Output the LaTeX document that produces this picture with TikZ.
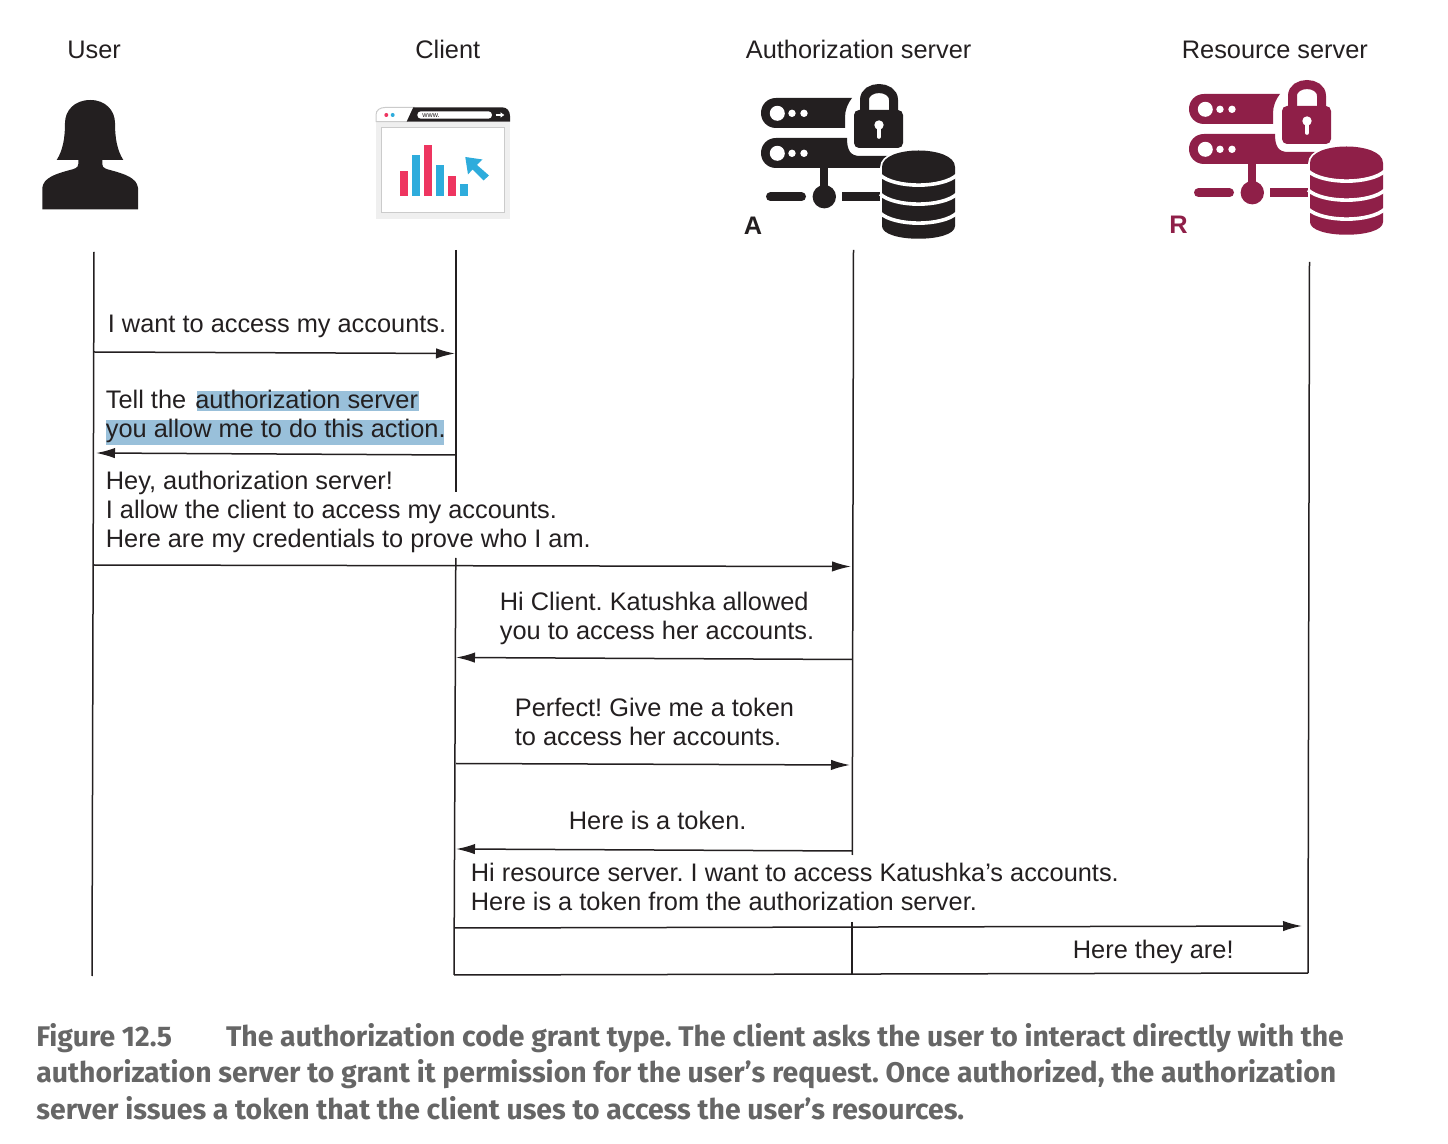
\documentclass[tikz,border=0pt]{standalone}
\usepackage{fontspec}
\setmainfont{Liberation Sans}
\newfontfamily\captionfont{Fira Sans}
\usetikzlibrary{positioning,arrows}
\usetikzlibrary{arrows.meta}
\definecolor{inkblack}{HTML}{231F20}
\definecolor{maroon}{HTML}{8F1F48}
\definecolor{highlight}{HTML}{99C0DA}
\definecolor{barred}{HTML}{EE3560}
\definecolor{barblue}{HTML}{2EACDC}
\definecolor{framegray}{HTML}{EFEFEF}
\definecolor{captiongray}{HTML}{666666}
\frenchspacing
\tikzset{
	lifeline/.style={draw=inkblack, line width=0.75pt},
	message/.style={lifeline, -{Latex[length=9.5pt,width=5.2pt]}},
	pics/servericon/.style={code={
		\fill [#1] (776,98) -- (852,98) .. controls (848,103) and (845,110) .. (845,117) -- (845,128) -- (776,128) .. controls (767,128) and (761,121) .. (761,113) .. controls (761,105) and (767,98) .. (776,98) -- cycle;
		\fill [#1] (776,138) -- (847,138) .. controls (847,150) and (850,156) .. (860,156) -- (892,156) -- (892,168) -- (776,168) .. controls (767,168) and (761,161) .. (761,153) .. controls (761,145) and (767,138) .. (776,138) -- cycle;
		\foreach \rowy in {113.3,153.3} {
			\fill [white] (777.3,\rowy) circle [radius=7.5];
			\fill [white] (792,\rowy) circle [radius=3.7];
			\fill [white] (804,\rowy) circle [radius=3.7];
		}
		\fill [#1] (820,168) rectangle (828,190);
		\fill [#1] (824.3,196.7) circle [radius=11.7];
		\draw [#1, line width=4.5pt, line cap=round] (770.5,196.7) -- (801.5,196.7);
		\fill [#1] (842,192) rectangle (890,201);
		\draw [#1, line width=4.5pt] (864.5,112) -- (864.5,100) .. controls (864.5,84.7) and (893.5,84.7) .. (893.5,100) -- (893.5,112);
		\fill [#1, rounded corners=2.5pt] (854,110) rectangle (903,148);
		\fill [white] (879,125) circle [radius=4.7];
		\draw [white, line width=1.8pt, line cap=round] (879,126) -- (879,137);
		\path [fill=#1, draw=white, line width=1.8pt] (882,167) .. controls (882,145) and (955,145) .. (955,167) -- (955,226) .. controls (955,243) and (882,243) .. (882,226) -- cycle;
		\fill [#1] (882,167) .. controls (882,145) and (955,145) .. (955,167) -- (955,226) .. controls (955,243) and (882,243) .. (882,226) -- cycle;
		\foreach \curvey in {175,194,213} {
			\draw [white, line width=1.8pt] (880,\curvey) .. controls (895,\curvey+13.5) and (942,\curvey+13.5) .. (957,\curvey);
		}
	}},
}
\begin{document}
\begin{tikzpicture}[x=0.5pt,y=-0.5pt]
	\useasboundingbox (0,0) rectangle (1448,1144);
	\tikzstyle{every node}=[font=\fontsize{12.68}{14.55}\selectfont, text=inkblack, inner sep=0pt, align=left, anchor=base west]

	\fill [highlight] (196.7,391) rectangle (419,410.7);
	\fill [highlight] (106,420) rectangle (444,445);

	\draw (67,59) node (userlabel) {User};
	\draw (415,59) node (clientlabel) {Client};
	\draw (745.5,59) node (authlabel) {Authorization server};
	\draw (1181.5,59) node (reslabel) {Resource server};

	\fill [inkblack] (90.3,100) .. controls (74,100) and (65,111) .. (65,123) .. controls (65,138) and (63,150) .. (56.7,160) -- (78.3,160) -- (78.3,164) .. controls (78.3,168) and (74,169) .. (70,170) .. controls (55,174) and (43.3,178) .. (42.3,188) -- (42.3,209.3) -- (138,209.3) -- (138,188) .. controls (137,178) and (125,174) .. (110,170) .. controls (106,169) and (102.3,168) .. (102.3,164) -- (102.3,160) -- (123.3,160) .. controls (117,150) and (115,138) .. (115,123) .. controls (115,111) and (106,100) .. (90.3,100) -- cycle;

	\fill [framegray] (375.7,121.7) rectangle (510,218.7);
	\fill [white, draw=framegray!85!black, line width=0.5pt] (376,121.7) -- (376,115) .. controls (376,110) and (380,107.5) .. (385,107.5) -- (414,107.5) -- (407,121.7) -- cycle;
	\fill [inkblack] (413.3,107.3) -- (502,107.3) .. controls (507,107.3) and (510,111) .. (510,116) -- (510,121.7) -- (406.7,121.7) -- cycle;
	\fill [white, draw=framegray!85!black, line width=0.5pt] (381.7,127.7) rectangle (504.3,212.7);
	\fill [barred] (386.3,115) circle [radius=2];
	\fill [barblue] (392.7,115) circle [radius=2];
	\fill [white, rounded corners=1.8pt] (417.3,111.3) rectangle (492,118.7);
	\draw (422,117.5) node (urltext) [font=\fontsize{3.6}{4}\selectfont] {www.};
	\draw [white, line width=0.7pt, -{Latex[length=2pt,width=3pt]}] (495.5,115) -- (504.5,115);
	\foreach \barx/\bartop/\barcol in {400/171/barred,412/155/barblue,424/145/barred,436/165/barblue,448/176/barred,460/184/barblue} {
		\fill [\barcol] (\barx,\bartop) rectangle (\barx+8,196);
	}
	\fill [barblue] (465.3,157) -- (482.5,159.5) -- (477,165) -- (489,175.5) -- (483.5,180.5) -- (472.5,169.5) -- (468,174.5) -- cycle;

	\pic at (0,0) {servericon=inkblack};
	\pic at (428,-4) {servericon=maroon};
	\draw (743.5,235) node (authmark) [font=\fontsize{12.68}{14}\selectfont\bfseries] {A};
	\draw (1169,234) node (resmark) [font=\fontsize{12.68}{14}\selectfont\bfseries, text=maroon] {R};

	\coordinate (usertop) at (94,252);
	\coordinate (userend) at (92,976);
	\coordinate (clienttop) at (456,250);
	\coordinate (clientgapa) at (456,492);
	\coordinate (clientgapb) at (455.8,558);
	\coordinate (clientend) at (454,975);
	\coordinate (authtop) at (853.5,250);
	\coordinate (authgapa) at (852.3,855);
	\coordinate (authgapb) at (852,922);
	\coordinate (authend) at (852,975);
	\coordinate (restop) at (1309.5,262);
	\coordinate (resend) at (1308,973);
	\draw [lifeline] (usertop) -- (userend);
	\draw [lifeline] (clienttop) -- (clientgapa);
	\draw [lifeline] (clientgapb) -- (clientend);
	\draw [lifeline] (authtop) -- (authgapa);
	\draw [lifeline] (authgapb) -- (authend);
	\draw [lifeline] (restop) -- (resend);
	\draw [lifeline] (clientend) -- (resend);

	\coordinate (ma) at (94,352);
	\coordinate (mb) at (455,353.5);
	\coordinate (mc) at (456,455);
	\coordinate (md) at (96,453);
	\coordinate (me) at (93,565);
	\coordinate (mf) at (851,566.5);
	\coordinate (mg) at (852,659.5);
	\coordinate (mh) at (456,657.5);
	\coordinate (mi) at (456,763.5);
	\coordinate (mj) at (850,765);
	\coordinate (mk) at (852,851);
	\coordinate (ml) at (456,849);
	\coordinate (mm) at (455,928);
	\coordinate (mn) at (1302,926);
	\draw [message] (ma) -- (mb);
	\draw [message] (mc) -- (md);
	\draw [message] (me) -- (mf);
	\draw [message] (mg) -- (mh);
	\draw [message] (mi) -- (mj);
	\draw [message] (mk) -- (ml);
	\draw [message] (mm) -- (mn);

	\draw (107.5,333) node (wantlabel) {I want to access my accounts.};
	\draw (105.5,438) node (telllabel) {Tell the\hspace{1pt} authorization server\\you allow me to do this action.};
	\draw (105.5,548) node (heylabel) {Hey, authorization server!\\I allow the client to access my accounts.\\Here are my credentials to prove who I am.};
	\draw (499.5,640) node (hilabel) {Hi Client. Katushka allowed\\you to access her accounts.};
	\draw (514.5,746) node (perfectlabel) {Perfect! Give me a token\\to access her accounts.};
	\draw (568.5,830) node (tokenlabel) {Here is a token.};
	\draw (470.5,911) node (reslabeltwo) {Hi resource server. I want to access Katushka’s accounts.\\Here is a token from the authorization server.};
	\draw (1072.5,958) node (herelabel) {Here they are!};

	\draw (36,1119) node (caption) [font=\captionfont\fontsize{14.2}{18.25}\selectfont\bfseries, text=captiongray] {Figure 12.5\hspace{1.9em}The authorization code grant type. The client asks the user to interact directly with the\\authorization server to grant it permission for the user’s request. Once authorized, the authorization\\server issues a token that the client uses to access the user’s resources.};
\end{tikzpicture}
\end{document}
